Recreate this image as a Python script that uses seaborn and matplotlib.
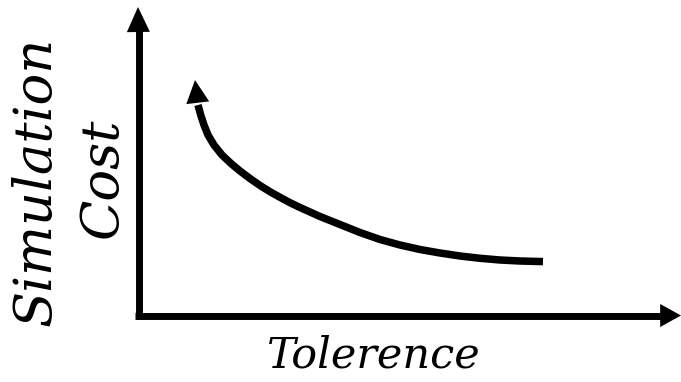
import matplotlib
matplotlib.use("Agg")
import matplotlib.pyplot as plt
import seaborn as sns
import pandas as pd

# Cost vs. tolerance trade-off curve (arbitrary units), drawn from the
# loose-tolerance end towards the tight-tolerance end
tolerance = [4.045, 3.815, 3.615, 3.415, 3.215, 3.015, 2.815, 2.615, 2.415,
             2.215, 2.015, 1.915, 1.815, 1.715, 1.615, 1.515, 1.415, 1.315,
             1.215, 1.115, 1.015, 0.925, 0.835, 0.755, 0.695, 0.655, 0.622, 0.595]
cost = [0.539, 0.545, 0.555, 0.572, 0.595, 0.625, 0.660, 0.705, 0.760,
        0.830, 0.910, 0.950, 0.990, 1.035, 1.080, 1.128, 1.182, 1.238,
        1.300, 1.370, 1.445, 1.520, 1.605, 1.705, 1.805, 1.905, 2.005, 2.105]
curve_tip = (0.565, 2.355)

x_label = "Tolerence"
y_label_lines = ["Simulation", "Cost"]

x_range = (-1.385, 5.425)
y_range = (-0.665, 3.155)

sns.set_theme(style="white")
plt.rcParams["font.family"] = ["DejaVu Serif"]

fig = plt.figure(figsize=(6.81, 3.82), dpi=100)
ax = fig.add_axes([0, 0, 1, 1])
ax.set_xlim(*x_range)
ax.set_ylim(*y_range)
ax.axis("off")

lw = 5.0

# axis shafts
ax.plot([0, 0], [-0.035, y_range[1] - 0.25], color="black", lw=lw, solid_capstyle="butt")
ax.plot([-0.035, x_range[1] - 0.2], [0, 0], color="black", lw=lw, solid_capstyle="butt")

# axis arrow heads
ax.annotate("", xy=(-0.005, y_range[1] - 0.07), xytext=(0, y_range[1] - 0.4),
            arrowprops=dict(arrowstyle="-|>,head_length=18,head_width=8.3",
                            mutation_scale=1, lw=0, color="black",
                            shrinkA=0, shrinkB=0))
ax.annotate("", xy=(x_range[1], 0), xytext=(x_range[1] - 0.4, 0),
            arrowprops=dict(arrowstyle="-|>,head_length=15,head_width=8.3",
                            mutation_scale=1, lw=0, color="black",
                            shrinkA=0, shrinkB=0))

# trade-off curve
df = pd.DataFrame({"tolerance": tolerance, "cost": cost})
sns.lineplot(data=df, x="tolerance", y="cost", sort=False, ax=ax,
             color="black", lw=5.4, solid_capstyle="butt", solid_joinstyle="round")
ax.annotate("", xy=curve_tip, xytext=(tolerance[-1], cost[-1]),
            arrowprops=dict(arrowstyle="-|>,head_length=16.5,head_width=8.3",
                            mutation_scale=1, lw=0, color="black",
                            shrinkA=0, shrinkB=0))

# labels
ax.text(2.355, -0.515, x_label, fontsize=31, style="italic",
        ha="center", va="baseline", color="black")
ax.text(-0.885, 1.345, y_label_lines[0], fontsize=38, style="italic",
        rotation=90, rotation_mode="anchor", ha="center", va="baseline", color="black")
ax.text(-0.215, 1.375, y_label_lines[1], fontsize=38, style="italic",
        rotation=90, rotation_mode="anchor", ha="center", va="baseline", color="black")

fig.savefig("out.png", dpi=100)
